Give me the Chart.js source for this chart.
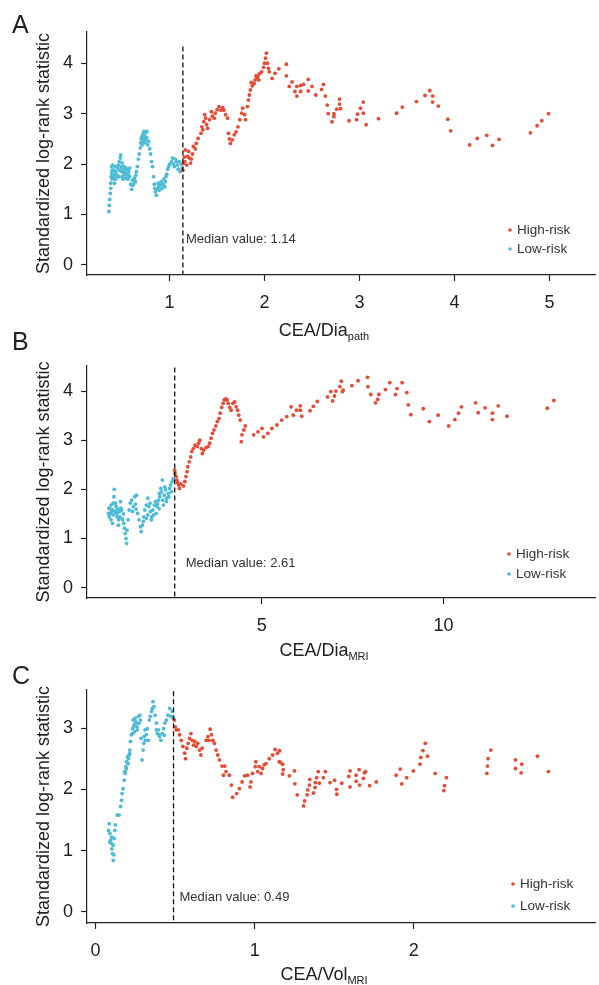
<!DOCTYPE html>
<html>
<head>
<meta charset="utf-8">
<script src="https://cdn.jsdelivr.net/npm/chart.js@4"></script>
<style>
body{margin:0;background:#fff;width:599px;height:985px;overflow:hidden;position:relative;font-family:"Liberation Sans",Arial,sans-serif;color:#222}
canvas{position:absolute;left:0;top:0}
.lab{position:absolute;left:12px;font-size:25px;line-height:1}
.xt{position:absolute;left:224px;width:200px;text-align:center;font-size:18px;line-height:1}
.xt sub{font-size:11px;vertical-align:baseline;position:relative;top:4px}
</style>
</head>
<body>
<canvas id="cA" width="599" height="985"></canvas>
<canvas id="cB" width="599" height="985"></canvas>
<canvas id="cC" width="599" height="985"></canvas>
<div class="lab" style="top:12px">A</div>
<div class="lab" style="top:329px">B</div>
<div class="lab" style="top:663px">C</div>
<div class="xt" style="top:321px">CEA/Dia<sub>path</sub></div>
<div class="xt" style="top:641px">CEA/Dia<sub>MRI</sub></div>
<div class="xt" style="top:965px">CEA/Vol<sub>MRI</sub></div>
<script>
const RED = '#E64B35'
const BLUE = '#4DBBD5'
const FONT = '"Liberation Sans", Arial, sans-serif'

// panel A: CEA/Dia path
const aLow = [[0.36,1.06],[0.365,1.18],[0.37,1.3],[0.375,1.42],[0.38,1.52],[0.38,1.62],[0.385,1.75],[0.39,1.82],[0.39,1.95],[0.395,1.7],
  [0.395,1.88],[0.40,1.78],[0.40,1.98],[0.41,1.72],[0.41,1.88],[0.42,1.62],[0.42,1.78],[0.43,1.85],[0.43,1.7],[0.43,1.95],
  [0.44,1.8],[0.45,1.92],[0.45,1.75],[0.46,1.98],[0.465,1.75],[0.47,2.05],[0.47,1.88],[0.48,2.12],[0.485,2.18],[0.49,1.95],
  [0.495,1.85],[0.50,1.75],[0.50,1.92],[0.50,2.02],[0.51,1.7],[0.51,1.85],[0.52,1.95],[0.52,1.78],[0.53,1.88],[0.53,1.82],
  [0.54,1.72],[0.54,1.92],[0.55,1.8],[0.55,1.72],[0.56,1.9],[0.56,1.7],[0.57,1.85],[0.57,1.78],[0.58,1.75],[0.58,1.92],
  [0.59,1.6],[0.60,1.5],[0.61,1.58],[0.61,1.68],[0.62,1.6],[0.63,1.72],[0.64,1.65],[0.645,1.78],
  [0.65,1.85],[0.66,1.95],[0.67,2.1],[0.68,2.2],[0.69,2.32],[0.695,2.42],[0.70,2.5],[0.71,2.38],[0.71,2.55],[0.72,2.45],
  [0.72,2.6],[0.73,2.5],[0.73,2.65],[0.74,2.42],[0.74,2.55],[0.75,2.62],[0.75,2.48],[0.76,2.65],[0.76,2.52],[0.77,2.38],
  [0.78,2.45],[0.79,2.3],[0.80,2.2],[0.81,2.05],[0.82,1.95],[0.83,1.75],[0.84,1.6],[0.845,1.52],[0.85,1.45],[0.86,1.38],
  [0.87,1.5],[0.88,1.62],[0.885,1.55],[0.89,1.48],[0.90,1.58],[0.91,1.65],[0.92,1.52],[0.93,1.6],[0.94,1.7],[0.95,1.55],
  [0.955,1.65],[0.96,1.75],[0.97,1.8],[0.98,1.9],[0.99,1.95],[1.00,2.0],[1.02,2.05],[1.03,2.12],[1.04,2.0],[1.05,1.95],
  [1.06,2.1],[1.07,2.05],[1.08,1.98],[1.09,1.9],[1.10,2.05],[1.11,1.85],[1.12,2.0],[1.13,1.92]]
const aHigh = [[1.14,1.88],[1.145,2.01],[1.155,2.14],[1.165,2.28],[1.16,2.05],[1.18,1.98],[1.19,2.15],[1.2,2.25],[1.21,2.12],[1.22,2.02],
  [1.23,2.1],[1.24,2.2],[1.25,2.35],[1.27,2.3],[1.28,2.41],[1.30,2.51],[1.33,2.61],[1.34,2.74],[1.35,2.68],[1.36,2.84],
  [1.37,2.98],[1.38,2.91],[1.39,2.78],[1.40,2.71],[1.42,2.88],[1.44,3.04],[1.45,2.95],[1.47,2.91],[1.48,3.01],[1.50,3.08],
  [1.52,3.14],[1.54,3.07],[1.56,3.12],[1.57,3.07],[1.59,2.98],[1.61,2.91],[1.62,2.61],[1.63,2.5],[1.64,2.41],[1.66,2.48],
  [1.68,2.58],[1.70,2.64],[1.72,2.74],[1.74,2.88],[1.76,3.01],[1.77,3.11],[1.79,2.98],[1.80,2.88],[1.82,3.14],[1.83,3.27],
  [1.84,3.37],[1.85,3.47],[1.86,3.62],[1.87,3.55],[1.89,3.6],[1.90,3.67],[1.91,3.75],[1.92,3.72],[1.93,3.75],[1.94,3.67],
  [1.95,3.8],[1.97,3.83],[1.99,3.92],[2.00,4.0],[2.01,4.1],[2.02,4.2],[2.03,4.0],[2.04,3.9],[2.05,3.83],[2.08,3.7],
  [2.11,3.8],[2.15,3.89],[2.23,3.98],[2.23,3.75],[2.26,3.54],[2.29,3.63],[2.32,3.44],[2.34,3.54],[2.34,3.35],[2.38,3.56],
  [2.38,3.44],[2.41,3.58],[2.46,3.68],[2.46,3.45],[2.50,3.54],[2.54,3.37],[2.60,3.48],[2.62,3.58],[2.64,3.35],[2.66,3.17],
  [2.67,3.0],[2.71,2.84],[2.73,3.0],[2.73,2.94],[2.76,3.09],[2.79,3.19],[2.79,3.29],[2.80,3.10],[2.89,2.86],[2.97,2.88],
  [2.98,2.99],[3.01,3.11],[3.04,3.23],[3.04,3.01],[3.07,2.78],[3.20,2.90],[3.39,3.01],[3.45,3.13],[3.60,3.24],[3.69,3.36],
  [3.74,3.46],[3.77,3.35],[3.77,3.23],[3.83,3.15],[3.93,2.89],[3.96,2.66],[4.16,2.38],[4.24,2.51],[4.34,2.57],[4.40,2.37],
  [4.47,2.49],[4.80,2.62],[4.87,2.76],[4.92,2.86],[4.99,3.0]]

// panel B: CEA/Dia MRI
const bLow = [[0.79,1.51],[0.80,1.62],[0.81,1.44],[0.83,1.61],[0.84,1.5],[0.86,1.38],[0.86,1.68],[0.88,1.55],[0.90,1.31],[0.91,1.58],
  [0.92,1.72],[0.93,1.48],[0.94,1.85],[0.95,2.0],[0.97,1.55],[0.98,1.72],[1.0,1.65],[1.02,1.51],[1.03,1.44],[1.04,1.6],
  [1.06,1.27],[1.07,1.38],[1.09,1.55],[1.10,1.44],[1.12,1.75],[1.13,1.62],[1.15,1.58],[1.16,1.41],[1.18,1.38],[1.2,1.5],
  [1.21,1.31],[1.23,1.21],[1.25,1.1],[1.27,1.0],[1.29,0.9],[1.30,1.17],[1.33,1.38],[1.36,1.58],[1.39,1.72],[1.43,1.78],
  [1.45,1.55],[1.47,1.65],[1.51,1.85],[1.53,1.7],[1.55,1.6],[1.56,1.88],[1.59,1.51],[1.63,1.38],[1.67,1.24],[1.69,1.14],
  [1.72,1.27],[1.75,1.35],[1.76,1.44],[1.79,1.58],[1.83,1.68],[1.83,1.41],[1.87,1.82],[1.87,1.48],[1.90,1.65],[1.93,1.72],
  [1.94,1.55],[1.97,1.38],[1.98,1.44],[2.01,1.58],[2.03,1.48],[2.05,1.68],[2.08,1.75],[2.10,1.51],[2.12,1.65],[2.14,1.7],
  [2.16,1.78],[2.18,1.61],[2.19,1.92],[2.2,1.85],[2.23,2.02],[2.25,1.95],[2.27,2.19],[2.28,1.78],[2.30,1.68],[2.32,1.88],
  [2.34,2.05],[2.36,1.99],[2.38,1.75],[2.39,1.82],[2.43,1.92],[2.45,1.85],[2.47,2.02],[2.50,2.09],[2.52,1.95],[2.54,2.16],
  [2.57,2.22]]
const bHigh = [[2.61,2.39],[2.62,2.33],[2.65,2.26],[2.67,2.19],[2.69,2.14],[2.72,2.09],[2.74,2.02],[2.78,2.11],[2.85,2.07],[2.89,2.16],
  [2.92,2.26],[2.95,2.36],[2.97,2.46],[3.01,2.56],[3.05,2.66],[3.08,2.77],[3.12,2.83],[3.17,2.90],[3.23,2.87],[3.27,2.94],
  [3.30,3.00],[3.34,2.83],[3.37,2.73],[3.41,2.80],[3.47,2.85],[3.53,2.87],[3.57,2.94],[3.61,3.04],[3.65,3.14],[3.69,3.21],
  [3.74,3.29],[3.78,3.38],[3.83,3.44],[3.86,3.55],[3.90,3.67],[3.94,3.75],[3.97,3.82],[4.01,3.84],[4.05,3.82],[4.08,3.75],
  [4.12,3.67],[4.16,3.61],[4.21,3.75],[4.26,3.78],[4.30,3.68],[4.34,3.61],[4.37,3.51],[4.41,3.41],[4.44,2.97],[4.46,3.11],
  [4.51,3.21],[4.55,3.29],[4.78,3.11],[4.90,3.17],[5.01,3.24],[5.05,3.07],[5.17,3.14],[5.28,3.24],[5.42,3.31],[5.55,3.41],
  [5.69,3.48],[5.81,3.68],[5.87,3.51],[5.96,3.61],[6.06,3.70],[6.06,3.61],[6.10,3.49],[6.33,3.60],[6.42,3.69],[6.53,3.79],
  [6.81,3.88],[6.90,3.99],[6.95,3.80],[7.0,3.90],[7.04,4.0],[7.15,4.09],[7.19,4.20],[7.22,3.99],[7.24,4.02],[7.48,4.11],
  [7.65,4.21],[7.91,4.28],[7.92,4.09],[8.0,3.93],[8.13,3.76],[8.19,3.83],[8.22,3.93],[8.40,4.03],[8.52,4.17],[8.68,3.93],
  [8.72,4.05],[8.86,4.17],[8.99,3.97],[9.03,3.72],[9.10,3.52],[9.44,3.64],[9.61,3.38],[9.85,3.51],[10.14,3.29],[10.31,3.42],
  [10.41,3.55],[10.49,3.68],[10.88,3.76],[10.95,3.56],[11.14,3.66],[11.34,3.55],[11.34,3.42],[11.50,3.70],[11.74,3.49],[12.85,3.65],
  [13.03,3.81]]

// panel C: CEA/Vol MRI
const cLow = [[0.081,1.33],[0.086,1.44],[0.09,1.28],[0.09,1.14],[0.094,1.17],[0.098,1.12],[0.102,1.03],[0.102,1.22],[0.106,0.95],[0.111,0.84],
  [0.111,1.09],[0.115,0.93],[0.117,1.20],[0.121,1.33],[0.125,1.42],[0.136,1.58],[0.148,1.58],[0.157,1.72],[0.163,1.82],[0.167,1.93],
  [0.173,2.01],[0.18,2.15],[0.184,2.29],[0.186,2.26],[0.19,2.37],[0.194,2.45],[0.194,2.34],[0.2,2.53],[0.205,2.42],[0.207,2.50],
  [0.211,2.56],[0.215,2.64],[0.215,2.58],[0.219,2.78],[0.225,2.89],[0.232,2.99],[0.232,2.91],[0.236,3.13],[0.24,3.02],[0.242,3.05],
  [0.246,2.94],[0.248,3.16],[0.253,3.10],[0.257,3.08],[0.261,3.02],[0.263,2.97],[0.269,3.19],[0.274,3.08],[0.278,3.21],[0.282,3.13],
  [0.286,2.83],[0.292,2.48],[0.299,2.64],[0.303,2.75],[0.305,2.86],[0.311,2.97],[0.313,2.80],[0.319,2.89],[0.326,2.99],[0.332,2.80],
  [0.338,3.13],[0.344,3.19],[0.351,3.27],[0.357,3.32],[0.361,3.43],[0.367,3.35],[0.374,3.21],[0.382,3.08],[0.382,2.97],[0.388,2.91],
  [0.395,2.97],[0.399,2.89],[0.403,2.86],[0.411,2.80],[0.42,2.91],[0.428,2.99],[0.432,2.88],[0.436,3.08],[0.445,3.13],[0.455,3.21],
  [0.466,3.32],[0.474,3.19],[0.482,3.27],[0.489,3.16]]
const cHigh = [[0.495,3.13],[0.501,3.02],[0.507,2.97],[0.52,2.97],[0.528,2.89],[0.539,2.80],[0.549,2.70],[0.56,2.59],[0.566,2.50],[0.574,2.67],
  [0.582,2.75],[0.591,2.83],[0.599,2.91],[0.608,2.80],[0.616,2.72],[0.624,2.78],[0.633,2.70],[0.643,2.75],[0.653,2.64],[0.662,2.56],
  [0.67,2.67],[0.695,2.80],[0.706,2.86],[0.712,2.80],[0.72,2.98],[0.729,2.89],[0.737,2.80],[0.747,2.75],[0.758,2.64],[0.768,2.56],
  [0.779,2.48],[0.795,2.38],[0.804,2.23],[0.812,2.38],[0.82,2.29],[0.841,2.23],[0.854,2.07],[0.862,1.87],[0.887,1.93],[0.904,2.01],
  [0.921,2.12],[0.937,2.22],[0.956,2.23],[0.971,2.04],[0.977,2.12],[0.987,2.26],[1.004,2.37],[1.008,2.45],[1.019,2.29],[1.029,2.37],
  [1.04,2.26],[1.05,2.34],[1.06,2.40],[1.071,2.42],[1.092,2.50],[1.113,2.56],[1.129,2.65],[1.144,2.59],[1.155,2.45],[1.157,2.63],
  [1.161,2.44],[1.176,2.41],[1.18,2.32],[1.176,2.25],[1.218,2.22],[1.25,2.30],[1.253,2.09],[1.268,1.91],[1.308,1.73],[1.314,1.81],
  [1.33,1.91],[1.334,1.99],[1.345,2.07],[1.347,2.16],[1.37,1.94],[1.38,2.03],[1.382,2.11],[1.39,2.19],[1.40,2.29],[1.407,2.10],
  [1.432,2.19],[1.445,2.29],[1.474,2.11],[1.503,2.15],[1.515,2.0],[1.517,1.92],[1.548,2.10],[1.592,2.21],[1.60,2.04],[1.60,2.30],
  [1.638,2.23],[1.638,2.13],[1.657,2.32],[1.66,2.07],[1.684,2.18],[1.69,2.27],[1.698,2.29],[1.723,2.06],[1.765,2.12],[1.89,2.23],
  [1.915,2.33],[1.925,2.09],[1.956,2.19],[1.998,2.30],[2.04,2.41],[2.045,2.52],[2.058,2.63],[2.073,2.75],[2.087,2.54],[2.135,2.26],
  [2.19,1.98],[2.194,2.06],[2.206,2.19],[2.46,2.26],[2.464,2.38],[2.468,2.50],[2.485,2.64],[2.64,2.48],[2.64,2.34],[2.68,2.41],
  [2.676,2.27],[2.778,2.54],[2.847,2.29]]

const medians = [1.14, 2.61, 0.49]
const medianLabels = ['1.14', '2.61', '0.49']
const xTicksA = [1, 2, 3, 4, 5]
const xTicksB = [5, 10]
const xTicksC = [0, 1, 2]
const yTicksA = [0, 1, 2, 3, 4]
const yTicksB = [0, 1, 2, 3, 4]
const yTicksC = [0, 1, 2, 3]

// median label + little legend in the lower right
const annot = {
  id: 'annot',
  afterDatasetsDraw (chart, args, o) {
    const { ctx, chartArea: a, scales: { x, y } } = chart
    ctx.save()
    ctx.font = '13px ' + FONT
    ctx.fillStyle = '#333'
    ctx.textBaseline = 'middle'
    ctx.fillText('Median value: ' + o.label, x.getPixelForValue(o.median) + o.textDx, y.getPixelForValue(o.textY))
    ctx.font = '13.5px ' + FONT
    chart.data.datasets.slice(1).forEach((d, i) => {
      const ly = a.bottom - o.legDy + i * o.legGap
      const lx = a.right - o.legDx
      ctx.fillStyle = d.backgroundColor
      ctx.beginPath()
      ctx.arc(lx, ly, 1.8, 0, 2 * Math.PI)
      ctx.fill()
      ctx.fillStyle = '#333'
      ctx.fillText(d.label, lx + 7, ly)
    })
    ctx.restore()
  }
}

function pts (arr) {
  return arr.map(p => ({ x: p[0], y: p[1] }))
}

function axis (min, max, ticks, pad, extra) {
  return Object.assign({
    type: 'linear',
    min: min,
    max: max,
    afterBuildTicks: s => { s.ticks = ticks.map(v => ({ value: v })) },
    grid: { drawOnChartArea: false, drawTicks: true, tickLength: 6, tickColor: '#222', tickWidth: 1.2 },
    border: { display: true, color: '#222', width: 1.2 },
    ticks: { font: { size: 18, family: FONT }, color: '#222', padding: pad, autoSkip: false, maxRotation: 0 }
  }, extra)
}

function build (id, low, high, o) {
  const ctx = document.getElementById(id).getContext('2d')
  return new Chart(ctx, {
    type: 'scatter',
    data: {
      datasets: [
        {
          label: 'Median',
          type: 'line',
          data: [{ x: o.median, y: o.medTop }, { x: o.median, y: o.yMin }],
          borderColor: '#111',
          borderWidth: 1.3,
          borderDash: [5, 3],
          pointRadius: 0,
          order: 0
        },
        { label: 'High-risk', data: pts(high), backgroundColor: RED, pointRadius: 1.9, borderWidth: 0, order: 1 },
        { label: 'Low-risk', data: pts(low), backgroundColor: BLUE, pointRadius: 1.9, borderWidth: 0, order: 1 }
      ]
    },
    options: {
      responsive: false,
      animation: false,
      layout: { padding: { top: o.top, bottom: o.bottom, left: 0, right: 0 } },
      plugins: {
        legend: { display: false },
        tooltip: { enabled: false },
        annot: o
      },
      scales: {
        x: axis(o.xMin, o.xMax, o.xTicks, 11, { afterFit: s => { s.height = 50 } }),
        y: axis(o.yMin, o.yMax, o.yTicks, 8, {
          afterFit: s => { s.width = 87 },
          title: {
            display: true,
            text: 'Standardized log-rank statistic',
            font: { size: 18, family: FONT },
            color: '#222',
            padding: { top: 33, bottom: 0 }
          }
        })
      }
    },
    plugins: [annot]
  })
}

build('cA', aLow, aHigh, {
  top: 32, bottom: 660, xMin: 0.13, xMax: 5.48, yMin: -0.2, yMax: 4.62,
  xTicks: xTicksA, yTicks: yTicksA, median: medians[0], label: medianLabels[0], medTop: 4.33,
  textDx: 3, textY: 0.5, legDx: 85, legDy: 45, legGap: 19
})
build('cB', bLow, bHigh, {
  top: 366, bottom: 337, xMin: 0.2, xMax: 14.16, yMin: -0.21, yMax: 4.51,
  xTicks: xTicksB, yTicks: yTicksB, median: medians[1], label: medianLabels[1], medTop: 4.48,
  textDx: 11, textY: 0.5, legDx: 86, legDy: 44, legGap: 20
})
build('cC', cLow, cHigh, {
  top: 690, bottom: 12, xMin: -0.054, xMax: 3.14, yMin: -0.18, yMax: 3.62,
  xTicks: xTicksC, yTicks: yTicksC, median: medians[2], label: medianLabels[2], medTop: 3.6,
  textDx: 6, textY: 0.245, legDx: 82, legDy: 39, legGap: 22
})
</script>
</body>
</html>
